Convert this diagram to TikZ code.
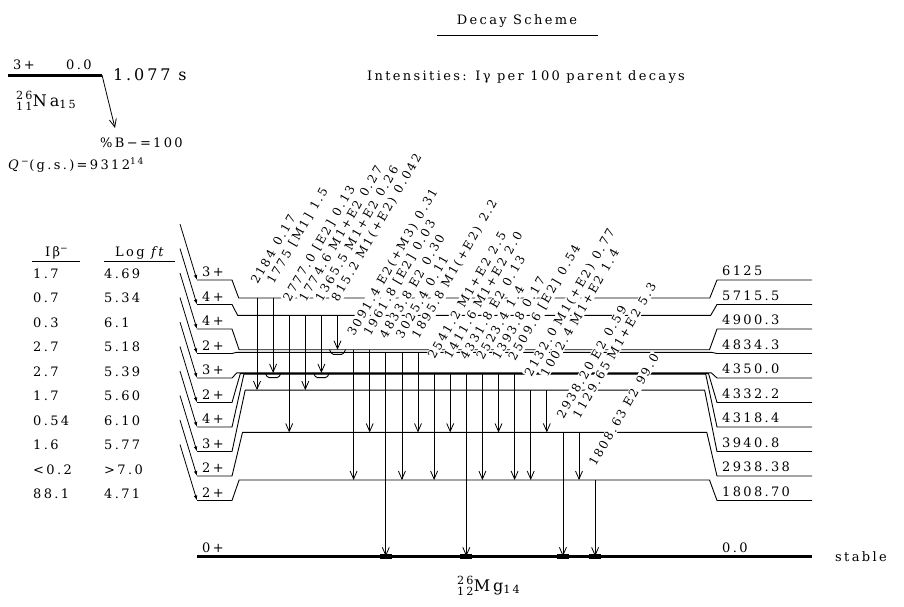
\documentclass[tikz,border=0pt]{standalone}
\usepackage{amsmath}
\usepackage{fontspec}
\setmainfont{DejaVu Serif}[LetterSpace=18]
\usetikzlibrary{arrows.meta}
\newcommand{\igap}{\hspace{7pt}}
\tikzset{
    lvl/.style   = {line width=0.9pt},
    grund/.style = {line width=3.4pt},
    gam/.style   = {-{Straight Barb[length=8pt,width=7pt]}, line width=0.8pt},
    beta/.style  = {-{Latex[length=5pt,width=3.5pt]}, line width=0.8pt},
    glab/.style  = {rotate=60, anchor=base west, fill=white, inner sep=1pt,
                    font=\fontsize{12}{13}\selectfont},
    tab/.style   = {anchor=base west, inner sep=0pt, font=\fontsize{13}{15}\selectfont},
    gross/.style = {tab, font=\fontsize{16}{18}\selectfont},
    mulde/.style = {line width=0.9pt, rounded corners=1.5pt},
    fuss/.style  = {line width=5.5pt}
}

\begin{document}
\begin{tikzpicture}[x=1pt, y=-1pt]
    \useasboundingbox (0,0) rectangle (904,606);

    \node[tab, anchor=base] (titel) at (517,24) {Decay Scheme};
    \draw[lvl] (437,35) -- (598,35);
    \node[tab] (intens) at (367,80) {Intensities: Iγ per 100 parent decays};

    \coordinate (p0) at (8,75);
    \coordinate (p1) at (102,75);
    \coordinate (p2) at (115,128);
    \draw[grund, line width=3pt] (p0) -- (p1);
    \draw[gam] (p1) -- (p2);
    \node[tab] (pspin) at (13,69) {3+};
    \node[tab] (pener) at (66,69) {0.0};
    \node[gross] (thalb) at (113,80) {1.077 s};
    \node[gross] (mutter) at (16,106) {$^{\text{26}}_{\text{11}}$Na$_{\text{15}}$};
    \node[tab] (zweig) at (100,147) {\%B−=100};
    \node[tab] (qwert) at (8,169) {\textit{Q}\textsuperscript{−}(g.s.)=9312\textsuperscript{14}};

    \node[tab] (hib) at (45,256) {Iβ\textsuperscript{−}};
    \node[tab] (hlf) at (115,256) {Log \textit{ft}};
    \draw[lvl] (32,261) -- (80,261);
    \draw[lvl] (104,261) -- (175,261);

    \coordinate (l6125) at (197,280);   \coordinate (b6125) at (180,224);
    \coordinate (l5715) at (197,304.5); \coordinate (b5715) at (180,248.5);
    \coordinate (l4900) at (197,329);   \coordinate (b4900) at (180,273);
    \coordinate (l4834) at (197,353.5); \coordinate (b4834) at (180,297.5);
    \coordinate (l4350) at (197,378);   \coordinate (b4350) at (180,322);
    \coordinate (l4332) at (197,402.5); \coordinate (b4332) at (180,346.5);
    \coordinate (l4318) at (197,427);   \coordinate (b4318) at (180,371);
    \coordinate (l3940) at (197,451.5); \coordinate (b3940) at (180,395.5);
    \coordinate (l2938) at (197,476);   \coordinate (b2938) at (180,420);
    \coordinate (l1808) at (197,500.5); \coordinate (b1808) at (180,444.5);

    \coordinate (m6125) at (240,298.0);
    \coordinate (m5715) at (240,315.3);
    \coordinate (m4900) at (240,349.7);
    \coordinate (m4834) at (240,352.4);
    \coordinate (m4350) at (240,372.9);
    \coordinate (m4332) at (240,373.6);
    \coordinate (m4318) at (240,374.2);
    \coordinate (m3940) at (240,390.1);
    \coordinate (m2938) at (240,432.4);
    \coordinate (m1808) at (240,480.0);
    \coordinate (m0)    at (197,556.3);

    \draw[lvl] (l6125) -- (232,280)   -- (238.7,298.0) -- (709.8,298.0) -- (717,280)   -- (812,280);
    \draw[lvl] (l5715) -- (232,304.5) -- (237.6,315.3) -- (710.7,315.3) -- (717,304.5) -- (812,304.5);
    \draw[lvl] (l4900) -- (232,329)   -- (239.1,349.7) -- (709.5,349.7) -- (717,329)   -- (812,329);
    \draw[lvl] (l4834) -- (232,353.5) -- (236.2,352.4) -- (711.9,352.4) -- (717,353.5) -- (812,353.5);
    \draw[lvl] (l4350) -- (232,378)   -- (236.8,372.9) -- (711.4,372.9) -- (717,378)   -- (812,378);
    \draw[lvl] (l4332) -- (232,402.5) -- (240.3,373.6) -- (708.5,373.6) -- (717,402.5) -- (812,402.5);
    \draw[lvl] (l4318) -- (232,427)   -- (243.9,374.2) -- (705.7,374.2) -- (717,427)   -- (812,427);
    \draw[lvl] (l3940) -- (232,451.5) -- (245.2,390.1) -- (704.6,390.1) -- (717,451.5) -- (812,451.5);
    \draw[lvl] (l2938) -- (232,476)   -- (242.5,432.4) -- (706.8,432.4) -- (717,476)   -- (812,476);
    \draw[lvl] (l1808) -- (232,500.5) -- (239.1,480.0) -- (709.5,480.0) -- (717,500.5) -- (812,500.5);
    \draw[grund] (m0) -- (812,556.3);

    \draw[beta] (b6125) -- (l6125);
    \draw[beta] (b5715) -- (l5715);
    \draw[beta] (b4900) -- (l4900);
    \draw[beta] (b4834) -- (l4834);
    \draw[beta] (b4350) -- (l4350);
    \draw[beta] (b4332) -- (l4332);
    \draw[beta] (b4318) -- (l4318);
    \draw[beta] (b3940) -- (l3940);
    \draw[beta] (b2938) -- (l2938);
    \draw[beta] (b1808) -- (l1808);

    \node[tab] (s6125) at (202,276.5) {3+};
    \node[tab] (s5715) at (202,301)   {4+};
    \node[tab] (s4900) at (202,325.5) {4+};
    \node[tab] (s4834) at (202,350)   {2+};
    \node[tab] (s4350) at (202,374.5) {3+};
    \node[tab] (s4332) at (202,399)   {2+};
    \node[tab] (s4318) at (202,423.5) {4+};
    \node[tab] (s3940) at (202,448)   {3+};
    \node[tab] (s2938) at (202,472.5) {2+};
    \node[tab] (s1808) at (202,497)   {2+};
    \node[tab] (s0)    at (202,552)   {0+};

    \node[tab] (e6125) at (722,275.5) {6125};
    \node[tab] (e5715) at (722,300)   {5715.5};
    \node[tab] (e4900) at (722,324.5) {4900.3};
    \node[tab] (e4834) at (722,349)   {4834.3};
    \node[tab] (e4350) at (722,373.5) {4350.0};
    \node[tab] (e4332) at (722,398)   {4332.2};
    \node[tab] (e4318) at (722,422.5) {4318.4};
    \node[tab] (e3940) at (722,447)   {3940.8};
    \node[tab] (e2938) at (722,471.5) {2938.38};
    \node[tab] (e1808) at (722,496)   {1808.70};
    \node[tab] (e0)    at (722,552)   {0.0};
    \node[tab] (stabil) at (835,561)  {stable};
    \node[gross] (tochter) at (457,591) {$^{\text{26}}_{\text{12}}$Mg$_{\text{14}}$};

    \node[tab] (ib6125) at (33,278)   {1.7};   \node[tab] (lf6125) at (104,278)   {4.69};
    \node[tab] (ib5715) at (33,302.5) {0.7};   \node[tab] (lf5715) at (104,302.5) {5.34};
    \node[tab] (ib4900) at (33,327)   {0.3};   \node[tab] (lf4900) at (104,327)   {6.1};
    \node[tab] (ib4834) at (33,351.5) {2.7};   \node[tab] (lf4834) at (104,351.5) {5.18};
    \node[tab] (ib4350) at (33,376)   {2.7};   \node[tab] (lf4350) at (104,376)   {5.39};
    \node[tab] (ib4332) at (33,400.5) {1.7};   \node[tab] (lf4332) at (104,400.5) {5.60};
    \node[tab] (ib4318) at (33,425)   {0.54};  \node[tab] (lf4318) at (104,425)   {6.10};
    \node[tab] (ib3940) at (33,449.5) {1.6};   \node[tab] (lf3940) at (104,449.5) {5.77};
    \node[tab] (ib2938) at (33,474)   {<0.2};  \node[tab] (lf2938) at (104,474)   {>7.0};
    \node[tab] (ib1808) at (33,498.5) {88.1};  \node[tab] (lf1808) at (104,498.5) {4.71};

    \coordinate (t2184) at (257.0,298.0);
    \coordinate (t1775) at (273.1,298.0);
    \coordinate (t2777) at (289.2,315.3);
    \coordinate (t1774) at (305.3,315.3);
    \coordinate (t1365) at (321.4,315.3);
    \coordinate (t815)  at (337.5,315.3);
    \coordinate (t3091) at (353.6,349.7);
    \coordinate (t1961) at (369.7,349.7);
    \coordinate (t4833) at (385.8,352.4);
    \coordinate (t3025) at (401.9,352.4);
    \coordinate (t1895) at (418.0,352.4);
    \coordinate (t2541) at (434.1,372.9);
    \coordinate (t1411) at (450.2,372.9);
    \coordinate (t4331) at (466.3,373.6);
    \coordinate (t2523) at (482.4,373.6);
    \coordinate (t1393) at (498.5,373.6);
    \coordinate (t2509) at (514.6,374.2);
    \coordinate (t2132) at (530.7,390.1);
    \coordinate (t1002) at (546.8,390.1);
    \coordinate (t2938) at (562.9,432.4);
    \coordinate (t1129) at (579.0,432.4);
    \coordinate (t1808) at (595.1,480.0);

    \node[glab] (g2184) at ([yshift=12pt]t2184) {2184\igap 0.17};
    \node[glab] (g1775) at ([yshift=12pt]t1775) {1775 [M1]\igap 1.5};
    \node[glab] (g2777) at ([yshift=12pt]t2777) {2777.0 [E2]\igap 0.13};
    \node[glab] (g1774) at ([yshift=12pt]t1774) {1774.6 M1+E2\igap 0.27};
    \node[glab] (g1365) at ([yshift=12pt]t1365) {1365.5 M1+E2\igap 0.26};
    \node[glab] (g815)  at ([yshift=12pt]t815)  {815.2 M1(+E2)\igap 0.042};
    \node[glab] (g3091) at ([yshift=12pt]t3091) {3091.4 E2(+M3)\igap 0.31};
    \node[glab] (g1961) at ([yshift=12pt]t1961) {1961.8 [E2]\igap 0.03};
    \node[glab] (g4833) at ([yshift=12pt]t4833) {4833.8 E2\igap 0.30};
    \node[glab] (g3025) at ([yshift=12pt]t3025) {3025.4\igap 0.11};
    \node[glab] (g1895) at ([yshift=12pt]t1895) {1895.8 M1(+E2)\igap 2.2};
    \node[glab] (g2541) at ([yshift=12pt]t2541) {2541.2 M1+E2\igap 2.5};
    \node[glab] (g1411) at ([yshift=12pt]t1411) {1411.6 M1+E2\igap 2.0};
    \node[glab] (g4331) at ([yshift=12pt]t4331) {4331.8 E2\igap 0.13};
    \node[glab] (g2523) at ([yshift=12pt]t2523) {2523.4\igap 1.4};
    \node[glab] (g1393) at ([yshift=12pt]t1393) {1393.8\igap 0.17};
    \node[glab] (g2509) at ([yshift=12pt]t2509) {2509.6 [E2]\igap 0.54};
    \node[glab] (g2132) at ([yshift=12pt]t2132) {2132.0 M1(+E2)\igap 0.77};
    \node[glab] (g1002) at ([yshift=12pt]t1002) {1002.4 M1+E2\igap 1.4};
    \node[glab] (g2938) at ([yshift=12pt]t2938) {2938.20 E2\igap 0.59};
    \node[glab] (g1129) at ([yshift=12pt]t1129) {1129.65 M1+E2\igap 5.3};
    \node[glab] (g1808) at ([yshift=12pt]t1808) {1808.63 E2\igap 99.0};

    \draw[gam] (t2184) -- (t2184 |- m3940);
    \draw[gam] (t1775) -- (t1775 |- m4350);
    \draw[gam] (t2777) -- (t2777 |- m2938);
    \draw[gam] (t1774) -- (t1774 |- m3940);
    \draw[gam] (t1365) -- (t1365 |- m4350);
    \draw[gam] (t815)  -- (t815  |- m4900);
    \draw[gam] (t3091) -- (t3091 |- m1808);
    \draw[gam] (t1961) -- (t1961 |- m2938);
    \draw[gam] (t4833) -- (t4833 |- m0);
    \draw[gam] (t3025) -- (t3025 |- m1808);
    \draw[gam] (t1895) -- (t1895 |- m2938);
    \draw[gam] (t2541) -- (t2541 |- m1808);
    \draw[gam] (t1411) -- (t1411 |- m2938);
    \draw[gam] (t4331) -- (t4331 |- m0);
    \draw[gam] (t2523) -- (t2523 |- m1808);
    \draw[gam] (t1393) -- (t1393 |- m2938);
    \draw[gam] (t2509) -- (t2509 |- m1808);
    \draw[gam] (t2132) -- (t2132 |- m1808);
    \draw[gam] (t1002) -- (t1002 |- m2938);
    \draw[gam] (t2938) -- (t2938 |- m0);
    \draw[gam] (t1129) -- (t1129 |- m1808);
    \draw[gam] (t1808) -- (t1808 |- m0);

    \draw[mulde] (265.1,372.9) -- (267.6,377.6) -- (278.6,377.6) -- (281.1,372.9);
    \draw[mulde] (313.4,372.9) -- (315.9,377.6) -- (326.9,377.6) -- (329.4,372.9);
    \draw[mulde] (329.5,349.7) -- (332.0,354.4) -- (343.0,354.4) -- (345.5,349.7);

    \draw[fuss] (379.8,556.3) -- (391.8,556.3);
    \draw[fuss] (460.3,556.3) -- (472.3,556.3);
    \draw[fuss] (556.9,556.3) -- (568.9,556.3);
    \draw[fuss] (589.1,556.3) -- (601.1,556.3);
\end{tikzpicture}
\end{document}
